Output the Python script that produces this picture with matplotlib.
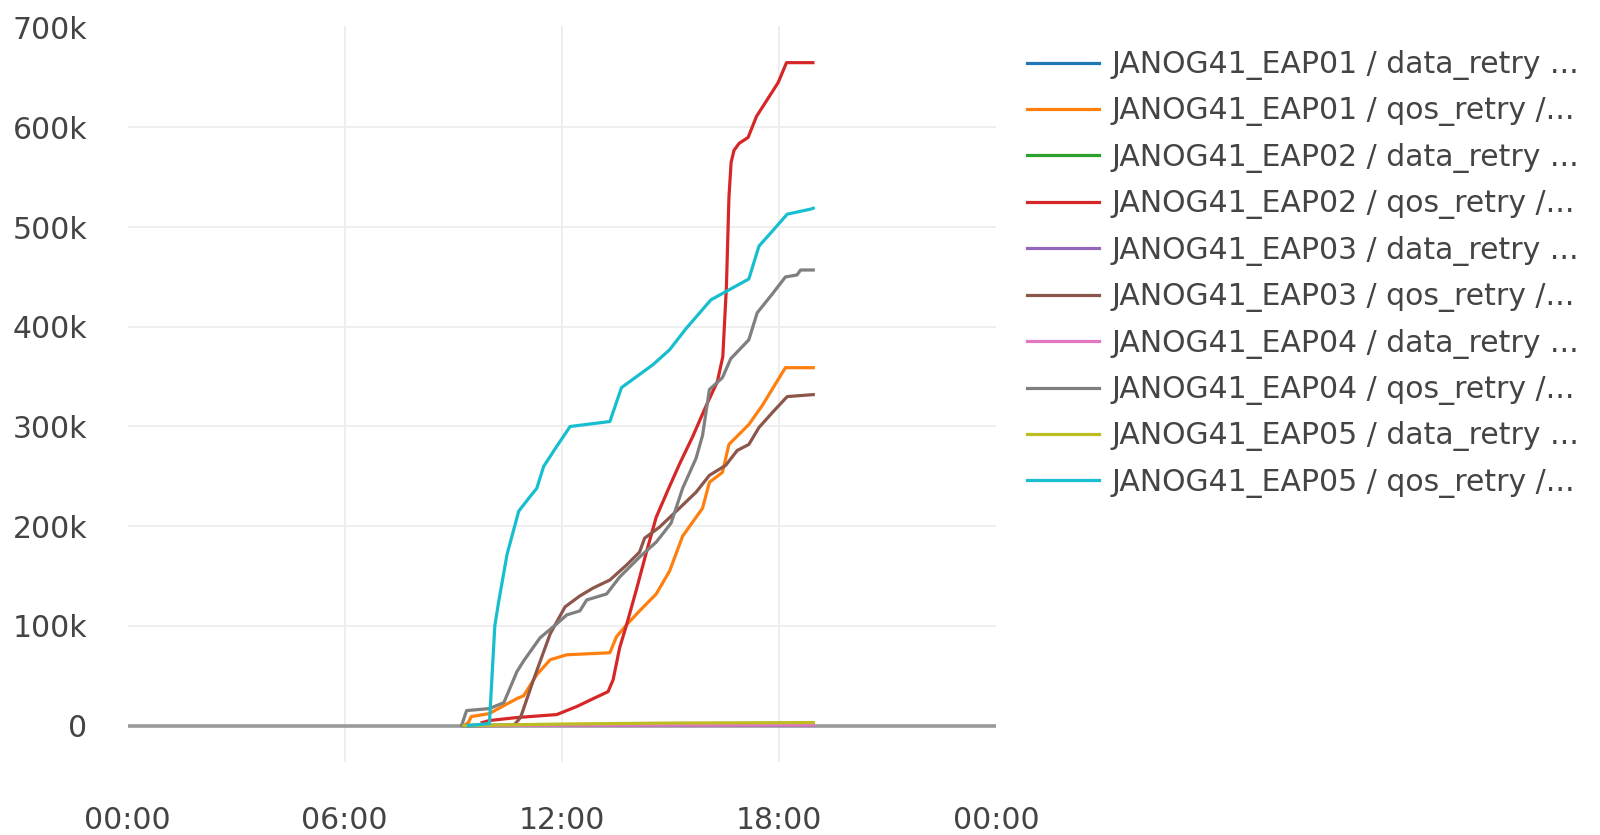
import matplotlib
matplotlib.use("Agg")
import matplotlib.pyplot as plt
from matplotlib.ticker import FuncFormatter

# Series names (legend labels are truncated in the original)
labels = [
    "JANOG41_EAP01 / data_retry ...",
    "JANOG41_EAP01 / qos_retry /...",
    "JANOG41_EAP02 / data_retry ...",
    "JANOG41_EAP02 / qos_retry /...",
    "JANOG41_EAP03 / data_retry ...",
    "JANOG41_EAP03 / qos_retry /...",
    "JANOG41_EAP04 / data_retry ...",
    "JANOG41_EAP04 / qos_retry /...",
    "JANOG41_EAP05 / data_retry ...",
    "JANOG41_EAP05 / qos_retry /...",
]
colors = ["#1f77b4", "#ff7f0e", "#2ca02c", "#d62728", "#9467bd",
          "#8c564b", "#e377c2", "#7f7f7f", "#bcbd22", "#17becf"]

# time in hours of the day, counts in thousands
eap01_data_t = [9.3, 12.0, 15.0, 18.95]
eap01_data_v = [0, 0.5, 0.8, 1.0]

eap01_qos_t = [9.3, 9.42, 9.5, 10.0, 10.4, 10.76, 10.95, 11.31, 11.68, 12.14,
               13.33, 13.51, 13.79, 14.15, 14.61, 14.98, 15.34, 15.89, 16.08,
               16.44, 16.62, 17.17, 17.54, 18.18, 18.95]
eap01_qos_v = [0, 3, 9, 12, 20, 27, 30, 51, 66, 71,
               73, 89, 101, 115, 132, 155, 190, 218, 244,
               254, 282, 302, 321, 359, 359]

eap02_data_t = [9.3, 12.0, 15.0, 18.95]
eap02_data_v = [0, 0.5, 1.0, 1.2]

eap02_qos_t = [9.8, 10.0, 10.75, 11.86, 12.41, 12.87, 13.28, 13.42, 13.6,
               13.79, 14.06, 14.34, 14.61, 14.98, 15.25, 15.62, 15.98, 16.3,
               16.45, 16.55, 16.62, 16.68, 16.76, 16.9, 17.15, 17.38, 17.98,
               18.21, 18.94]
eap02_qos_v = [3, 5, 8, 11, 19, 27, 34, 46, 78,
               101, 136, 174, 209, 240, 262, 290, 320, 345,
               370, 440, 530, 565, 577, 584, 590, 611, 645,
               665, 665]

eap03_data_t = [9.3, 12.0, 15.0, 18.95]
eap03_data_v = [0, 0.3, 0.5, 0.6]

eap03_qos_t = [9.3, 10.67, 10.86, 11.22, 11.68, 12.09, 12.5, 12.87, 13.33,
               13.79, 14.15, 14.29, 14.7, 15.25, 15.71, 16.08, 16.53, 16.85,
               17.17, 17.45, 17.82, 18.23, 18.95]
eap03_qos_v = [0, 0, 8, 46, 92, 119, 130, 138, 146,
               161, 174, 188, 199, 218, 234, 251, 261, 276,
               282, 299, 314, 330, 332]

eap04_data_t = [9.3, 12.0, 15.0, 18.95]
eap04_data_v = [0, 0.3, 0.5, 0.7]

eap04_qos_t = [9.23, 9.37, 10.0, 10.4, 10.76, 10.95, 11.4, 11.86, 12.14, 12.5,
               12.69, 13.24, 13.6, 14.15, 14.61, 15.02, 15.34, 15.71, 15.89,
               16.08, 16.44, 16.67, 17.17, 17.4, 17.82, 18.18, 18.5, 18.6,
               18.95]
eap04_qos_v = [0, 15, 17, 23, 54, 65, 88, 102, 111, 115,
               126, 132, 149, 169, 184, 203, 238, 268, 291,
               337, 349, 368, 387, 414, 433, 450, 452, 457,
               457]

eap05_data_t = [9.3, 12.0, 15.0, 18.95]
eap05_data_v = [0, 1.5, 2.5, 3.0]

eap05_qos_t = [9.42, 10.0, 10.15, 10.26, 10.49, 10.81, 11.13, 11.31, 11.5,
               11.86, 12.23, 13.33, 13.65, 14.52, 14.98, 15.43, 16.12, 17.17,
               17.45, 17.82, 18.23, 18.87, 18.95]
eap05_qos_v = [0, 2, 100, 125, 172, 215, 230, 238, 260,
               280, 300, 305, 339, 362, 377, 398, 427, 448,
               481, 496, 513, 518, 519]

series_t = [eap01_data_t, eap01_qos_t, eap02_data_t, eap02_qos_t, eap03_data_t,
            eap03_qos_t, eap04_data_t, eap04_qos_t, eap05_data_t, eap05_qos_t]
series_v = [eap01_data_v, eap01_qos_v, eap02_data_v, eap02_qos_v, eap03_data_v,
            eap03_qos_v, eap04_data_v, eap04_qos_v, eap05_data_v, eap05_qos_v]

x_ticks = [0, 6, 12, 18, 24]
x_tick_labels = ["00:00", "06:00", "12:00", "18:00", "00:00"]
y_ticks = [0, 100, 200, 300, 400, 500, 600, 700]

text_color = "#444444"
fs = 21.5

fig = plt.figure(figsize=(16, 8.35), dpi=100)
ax = fig.add_axes([0.0797, 0.0874, 0.5428, 0.8815])

# zero line under the data
ax.axhline(0, color="#9a9a9a", linewidth=2.6, zorder=1.5)

handles = []
for t, v, c, lab in zip(series_t, series_v, colors, labels):
    line, = ax.plot(t, v, color=c, linewidth=2.3, label=lab, zorder=2,
                    solid_joinstyle="round")
    handles.append(line)

ax.set_xlim(0, 24)
ax.set_ylim(-36.6, 701.8)
ax.set_xticks(x_ticks)
ax.set_xticklabels(x_tick_labels)
ax.set_yticks(y_ticks)
ax.yaxis.set_major_formatter(FuncFormatter(lambda v, p: "0" if v == 0 else f"{int(v)}k"))

for s in ax.spines.values():
    s.set_visible(False)
ax.tick_params(axis="both", length=0, labelsize=fs, labelcolor=text_color)
ax.tick_params(axis="x", pad=32)
ax.tick_params(axis="y", pad=29)

ax.grid(True, color="#eeeeee", linewidth=1.4, zorder=0)
ax.set_axisbelow(True)
# no grid at the axis edges or under the zero line
xg = ax.get_xgridlines()
xg[0].set_visible(False)
xg[-1].set_visible(False)
yg = ax.get_ygridlines()
yg[0].set_visible(False)
yg[-1].set_visible(False)

fig.legend(handles, labels, loc="upper left", bbox_to_anchor=(1027 / 1600, 1 - 50 / 835),
           frameon=False, fontsize=fs, labelcolor=text_color, borderpad=0,
           borderaxespad=0, handlelength=2.4, handletextpad=0.43, labelspacing=0.55)

fig.savefig("out.png", dpi=100, facecolor="white")
